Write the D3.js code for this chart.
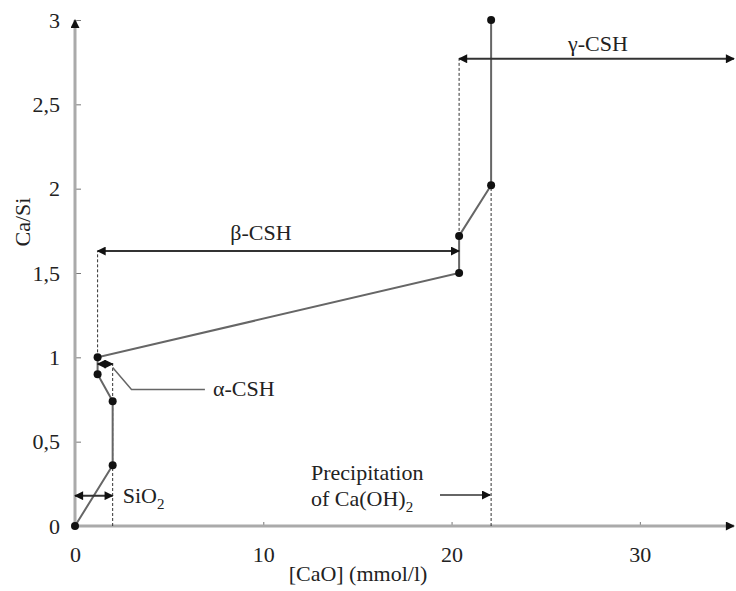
<!DOCTYPE html>
<html>
<head>
<meta charset="utf-8">
<script src="https://cdn.jsdelivr.net/npm/d3@7"></script>
<style>
  body { margin: 0; background: #fff; }
  text { font-family: "Liberation Serif", "DejaVu Serif", serif; fill: #222; }
</style>
</head>
<body>
<div id="app"></div>
<script>
'use strict'
// measured points: [CaO] (mmol/l) vs Ca/Si
const caO = [0, 2.0, 2.0, 1.2, 1.2, 20.4, 20.4, 22.1, 22.1]
const caSi = [0, 0.36, 0.74, 0.9, 1.0, 1.5, 1.72, 2.02, 3.0]

const xTicks = [0, 10, 20, 30]
const yTicks = [0, 0.5, 1, 1.5, 2, 2.5, 3]
const yTickLabels = ['0', '0,5', '1', '1,5', '2', '2,5', '3']

// phase ranges (double arrows)
const phases = [
  { name: 'SiO', sub: '2', x0: 0, x1: 2.0, y: 0.18 },
  { name: 'α-CSH', x0: 1.2, x1: 2.0, y: 0.96 },
  { name: 'β-CSH', x0: 1.2, x1: 20.4, y: 1.63 },
  { name: 'γ-CSH', x0: 20.4, x1: 35, y: 2.77 }
]

// dashed drop lines : [x, yFrom, yTo]
const guides = [
  [2.0, 0, 0.97],
  [1.2, 1.0, 1.63],
  [20.4, 1.72, 2.77],
  [22.1, 0, 2.02]
]

const W = 736, H = 591
const FS = '22px'
const svg = d3.select('#app').append('svg')
  .attr('width', W)
  .attr('height', H)

const x = d3.scaleLinear().domain([0, 35]).range([75, 734])
const y = d3.scaleLinear().domain([0, 3]).range([526, 20])

const defs = svg.append('defs')
defs.append('marker')
  .attr('id', 'arr')
  .attr('viewBox', '0 0 10 10')
  .attr('refX', 9).attr('refY', 5)
  .attr('markerWidth', 12).attr('markerHeight', 9)
  .attr('markerUnits', 'userSpaceOnUse')
  .attr('orient', 'auto-start-reverse')
  .append('path').attr('d', 'M0,0L10,5L0,10Z').attr('fill', '#111')

// axes
const xAxis = svg.append('g')
  .attr('transform', `translate(0, ${y(0)})`)
  .call(d3.axisBottom(x).tickValues(xTicks).tickSize(-4).tickPadding(20).tickFormat(d3.format('d')))
const yAxis = svg.append('g')
  .attr('transform', `translate(${x(0)}, 0)`)
  .call(d3.axisLeft(y).tickValues(yTicks).tickSize(-6).tickPadding(15).tickFormat((d, i) => yTickLabels[i]))

svg.selectAll('.domain').remove()
svg.selectAll('.tick line').attr('stroke', '#777').attr('stroke-width', 1)
svg.selectAll('.tick text').style('font-size', FS).attr('fill', '#222')

svg.append('line')
  .attr('x1', x(0)).attr('x2', x(35))
  .attr('y1', y(0)).attr('y2', y(0))
  .attr('stroke', '#aaa').attr('stroke-width', 3)
  .attr('marker-end', 'url(#arr)')
svg.append('line')
  .attr('x1', x(0)).attr('x2', x(0))
  .attr('y1', y(0)).attr('y2', y(3))
  .attr('stroke', '#aaa').attr('stroke-width', 3)
  .attr('marker-end', 'url(#arr)')

svg.append('text')
  .attr('x', 358).attr('y', 581)
  .attr('text-anchor', 'middle')
  .style('font-size', FS)
  .text('[CaO] (mmol/l)')
svg.append('text')
  .attr('transform', 'translate(30, 222) rotate(-90)')
  .attr('text-anchor', 'middle')
  .style('font-size', FS)
  .text('Ca/Si')

// dashed guides
svg.selectAll('.guide')
  .data(guides)
  .enter()
  .append('line')
  .attr('x1', d => x(d[0])).attr('x2', d => x(d[0]))
  .attr('y1', d => y(d[1])).attr('y2', d => y(d[2]))
  .attr('stroke', '#333').attr('stroke-width', 1)
  .attr('stroke-dasharray', '3,2')

// data line
const pts = caO.map((c, i) => [c, caSi[i]])
svg.append('path')
  .datum(pts)
  .attr('fill', 'none')
  .attr('stroke', '#666')
  .attr('stroke-width', 2)
  .attr('d', d3.line().x(d => x(d[0])).y(d => y(d[1])))

svg.selectAll('.pt')
  .data(pts)
  .enter()
  .append('circle')
  .attr('cx', d => x(d[0]))
  .attr('cy', d => y(d[1]))
  .attr('r', 4)
  .attr('fill', '#111')

// phase double arrows
svg.selectAll('.phase')
  .data(phases)
  .enter()
  .append('line')
  .attr('x1', d => x(d.x0)).attr('x2', d => x(d.x1))
  .attr('y1', d => y(d.y)).attr('y2', d => y(d.y))
  .attr('stroke', '#333').attr('stroke-width', 2)
  .attr('marker-start', 'url(#arr)')
  .attr('marker-end', 'url(#arr)')

// labels
const sio = svg.append('text')
  .attr('x', x(2.0) + 10).attr('y', y(0.18) + 7)
  .style('font-size', FS)
sio.append('tspan').text(phases[0].name)
sio.append('tspan').attr('dy', 6).style('font-size', '15px').text(phases[0].sub)

// α-CSH leader
svg.append('path')
  .attr('d', `M${x(2.0)},${y(0.94)}L${x(3.0)},${y(0.81)}L${x(6.9)},${y(0.81)}`)
  .attr('fill', 'none').attr('stroke', '#666').attr('stroke-width', 1.5)
svg.append('text')
  .attr('x', 213).attr('y', y(0.81) + 7)
  .style('font-size', FS)
  .text(phases[1].name)

svg.append('text')
  .attr('x', 261).attr('y', 240)
  .attr('text-anchor', 'middle')
  .style('font-size', FS)
  .text(phases[2].name)

svg.append('text')
  .attr('x', 598).attr('y', 51)
  .attr('text-anchor', 'middle')
  .style('font-size', FS)
  .text(phases[3].name)

// precipitation note
svg.append('text')
  .attr('x', 311).attr('y', 480)
  .style('font-size', FS)
  .text('Precipitation')
const caoh = svg.append('text')
  .attr('x', 311).attr('y', 506)
  .style('font-size', FS)
caoh.append('tspan').text('of Ca(OH)')
caoh.append('tspan').attr('dy', 6).style('font-size', '15px').text('2')
svg.append('line')
  .attr('x1', 440).attr('x2', x(22.1) - 1)
  .attr('y1', 495).attr('y2', 495)
  .attr('stroke', '#333').attr('stroke-width', 1.5)
  .attr('marker-end', 'url(#arr)')
</script>
</body>
</html>
